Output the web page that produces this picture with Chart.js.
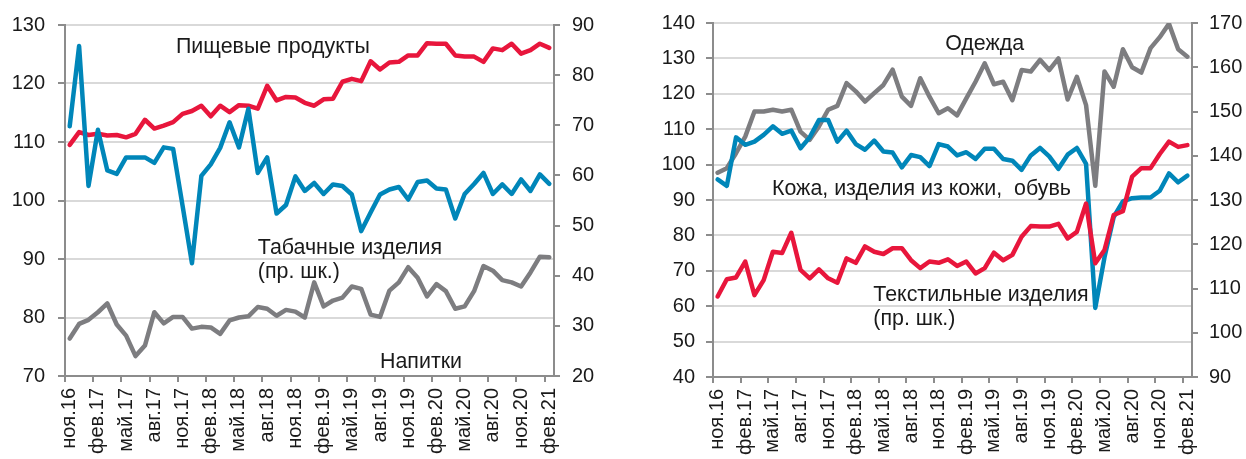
<!DOCTYPE html>
<html>
<head>
<meta charset="utf-8">
<script src="https://cdn.jsdelivr.net/npm/chart.js@4.4.1/dist/chart.umd.min.js"></script>
<style>
  body { margin: 0; background: #fff; }
  #wrap { position: relative; width: 1246px; height: 459px; }
  canvas { position: absolute; top: 0; }
</style>
</head>
<body>
<div id="wrap">
  <canvas id="chart-left" width="620" height="459" style="left:0"></canvas>
  <canvas id="chart-right" width="626" height="459" style="left:620px"></canvas>
</div>
<script>
const MONTHS = [
    "ноя.16", "дек.16",
    "янв.17", "фев.17", "мар.17", "апр.17", "май.17", "июн.17", "июл.17", "авг.17", "сен.17", "окт.17", "ноя.17", "дек.17",
    "янв.18", "фев.18", "мар.18", "апр.18", "май.18", "июн.18", "июл.18", "авг.18", "сен.18", "окт.18", "ноя.18", "дек.18",
    "янв.19", "фев.19", "мар.19", "апр.19", "май.19", "июн.19", "июл.19", "авг.19", "сен.19", "окт.19", "ноя.19", "дек.19",
    "янв.20", "фев.20", "мар.20", "апр.20", "май.20", "июн.20", "июл.20", "авг.20", "сен.20", "окт.20", "ноя.20", "дек.20",
    "янв.21", "фев.21"
];

// left panel
const FOOD = [109.5, 111.7, 111.2, 111.4, 111.1, 111.2, 110.8, 111.4, 113.8, 112.3,
              112.8, 113.4, 114.8, 115.3, 116.2, 114.4, 116.2, 115.1, 116.3, 116.2,
              115.7, 119.6, 117.1, 117.7, 117.6, 116.7, 116.2, 117.3, 117.4, 120.3,
              120.8, 120.4, 123.8, 122.4, 123.6, 123.7, 124.8, 124.8, 126.9, 126.8,
              126.8, 124.8, 124.6, 124.6, 123.7, 126.0, 125.7, 126.8, 125.1, 125.7, 126.8, 126.1];
const TOBACCO = [69.8, 85.8, 57.9, 69.1, 61.0, 60.3, 63.6, 63.6, 63.6, 62.5,
                 65.6, 65.3, 54.0, 42.5, 59.9, 62.2, 65.5, 70.6, 65.6, 73.3,
                 60.5, 63.6, 52.4, 54.1, 59.8, 56.9, 58.5, 56.3, 58.2, 57.9,
                 56.2, 48.9, 52.6, 56.2, 57.2, 57.7, 55.2, 58.7, 59.0, 57.4,
                 57.2, 51.4, 56.3, 58.3, 60.5, 56.3, 58.2, 56.3, 59.2, 56.9, 60.2, 58.3];
const DRINKS = [76.4, 78.9, 79.6, 80.9, 82.4, 78.8, 76.9, 73.4, 75.2, 80.9,
                79.0, 80.1, 80.1, 78.1, 78.4, 78.3, 77.2, 79.5, 80.0, 80.2,
                81.8, 81.5, 80.3, 81.3, 81.0, 80.0, 86.0, 81.9, 82.9, 83.4,
                85.3, 84.9, 80.5, 80.1, 84.6, 86.0, 88.6, 86.8, 83.6, 85.7,
                84.5, 81.5, 81.9, 84.5, 88.8, 88.0, 86.4, 86.0, 85.3, 87.7, 90.4, 90.3];

// right panel
const CLOTHES = [97.7, 99.0, 103.2, 107.9, 115.0, 115.0, 115.5, 115.0, 115.5, 109.3,
                 107.0, 110.8, 115.5, 116.6, 123.0, 120.7, 117.8, 120.2, 122.5, 126.8,
                 119.2, 116.6, 124.4, 119.2, 114.5, 115.9, 113.9, 118.7, 123.4, 128.6,
                 122.7, 123.4, 118.2, 126.7, 126.3, 129.6, 126.7, 130.0, 118.4, 124.8,
                 116.8, 94.0, 126.3, 122.0, 132.6, 127.5, 126.0, 132.9, 136.0, 139.8, 132.6, 130.5];
const LEATHER = [95.8, 94.0, 107.7, 105.6, 106.5, 108.4, 110.8, 108.7, 109.6, 104.6,
                 107.7, 112.6, 112.6, 106.5, 109.6, 105.8, 104.2, 106.8, 103.7, 103.4,
                 99.2, 102.7, 102.1, 99.6, 105.8, 105.1, 102.6, 103.5, 101.6, 104.5,
                 104.5, 101.6, 101.1, 98.5, 102.6, 104.7, 102.3, 98.8, 102.8, 104.7,
                 100.2, 59.5, 73.8, 85.2, 89.6, 90.5, 90.7, 90.7, 92.6, 97.5, 95.0, 96.9];
const TEXTILE = [108.2, 112.1, 112.5, 116.1, 108.5, 111.9, 118.3, 118.0, 122.6, 114.2,
                 112.3, 114.3, 112.3, 111.3, 116.8, 115.8, 119.5, 118.3, 117.8, 119.1,
                 119.1, 116.4, 114.6, 116.1, 115.8, 116.6, 115.1, 116.1, 113.4, 114.6,
                 118.1, 116.4, 117.6, 121.7, 124.1, 124.0, 124.0, 124.6, 121.3, 122.8,
                 129.2, 115.7, 118.7, 126.6, 127.5, 135.3, 137.2, 137.2, 140.4, 143.2, 142.0, 142.4];

const RED  = "rgb(232, 22, 60)";
const BLUE = "rgb(0, 134, 185)";
const GRAY = "rgb(125, 125, 128)";
const AXIS = "#8c8c8c";
const GRID = "#d9d9d9";
const FONT = { family: "'Liberation Sans', Arial, sans-serif", size: 20 };
const NOTE_SIZE = 21.4;

// text labels placed in data coordinates (category index, value on left axis)
const notesPlugin = {
    id: "notes",
    afterDatasetsDraw(chart, args, opts) {
        const { ctx, scales } = chart;
        ctx.save();
        ctx.font = `${NOTE_SIZE}px ${FONT.family}`;
        ctx.fillStyle = "#1a1a1a";
        ctx.textBaseline = "alphabetic";
        ctx.textAlign = "left";
        opts.items.forEach(([text, at, val]) => {
            ctx.fillText(text, scales.x.getPixelForValue(at), scales.y.getPixelForValue(val));
        });
        ctx.restore();
    }
};

function line(data, color, axis, order) {
    return {
        data, yAxisID: axis, order,
        borderColor: color, borderWidth: 4.5,
        pointRadius: 0, tension: 0,
        borderJoinStyle: "round", borderCapStyle: "round",
    };
}

function makeChart(id, p) {
    return new Chart(document.getElementById(id).getContext("2d"), {
        type: "line",
        data: { labels: MONTHS, datasets: p.datasets },
        plugins: [notesPlugin],
        options: {
            responsive: false,
            animation: false,
            layout: { padding: { top: 23, left: 0, right: 0, bottom: 0 } },
            plugins: {
                legend: { display: false },
                tooltip: { enabled: false },
                notes: { items: p.notes },
            },
            scales: {
                x: {
                    offset: true,
                    grid: {
                        offset: true,
                        drawOnChartArea: false,
                        tickLength: 6,
                        lineWidth: 2,
                        color: c => c.index % 3 === 0 ? AXIS : "rgba(0,0,0,0)",
                        tickColor: c => c.index % 3 === 0 ? AXIS : "rgba(0,0,0,0)",
                    },
                    border: { display: true, color: AXIS, width: 2 },
                    ticks: {
                        autoSkip: false, minRotation: 90, maxRotation: 90, padding: 6,
                        font: FONT, color: "#1a1a1a",
                        callback: function (v, i) { return i % 3 === 0 ? this.getLabelForValue(v) : ""; },
                    },
                    afterFit: s => { s.height = p.xHeight; },
                },
                y: {
                    position: "left", min: p.left[0], max: p.left[1],
                    grid: { color: GRID, lineWidth: 2, tickColor: AXIS, tickLength: 7 },
                    border: { display: true, color: AXIS, width: 2 },
                    ticks: { stepSize: 10, padding: p.leftPad, font: FONT, color: "#1a1a1a" },
                    afterFit: s => { s.width = p.leftWidth; },
                },
                y2: {
                    position: "right", min: p.right[0], max: p.right[1],
                    grid: { drawOnChartArea: false, tickColor: AXIS, tickLength: 6, lineWidth: 2 },
                    border: { display: true, color: AXIS, width: 2 },
                    ticks: { stepSize: 10, padding: p.rightPad, font: FONT, color: "#1a1a1a" },
                    afterFit: s => { s.width = p.rightWidth; },
                },
            },
        },
    });
}

makeChart("chart-left", {
    datasets: [
        line(TOBACCO, BLUE, "y2", 0),
        line(FOOD, RED, "y", 1),
        line(DRINKS, GRAY, "y", 2),
    ],
    left: [70, 130], right: [20, 90],
    leftWidth: 65, rightWidth: 66, xHeight: 83,
    leftPad: 13, rightPad: 12,
    notes: [
        ["Пищевые продукты", 11.3, 125.2],
        ["Табачные изделия", 20.0, 90.9],
        ["(пр. шк.)", 20.0, 86.8],
        ["Напитки", 33.0, 71.3],
    ],
});

makeChart("chart-right", {
    datasets: [
        line(TEXTILE, RED, "y2", 0),
        line(LEATHER, BLUE, "y", 1),
        line(CLOTHES, GRAY, "y", 2),
    ],
    left: [40, 140], right: [90, 170],
    leftWidth: 93, rightWidth: 54, xHeight: 82,
    leftPad: 11, rightPad: 11,
    notes: [
        ["Одежда", 24.7, 132.4],
        ["Кожа, изделия из кожи,  обувь", 5.9, 91.3],
        ["Текстильные изделия", 16.9, 61.6],
        ["(пр. шк.)", 16.9, 54.6],
    ],
});
</script>
</body>
</html>
